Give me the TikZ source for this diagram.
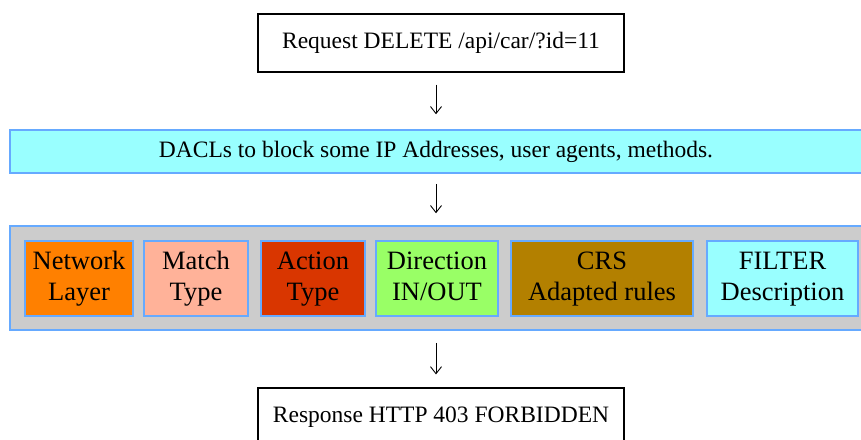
\documentclass[tikz,border=0pt]{standalone}
\usepackage{fontspec}
\setmainfont{Liberation Serif}
\usetikzlibrary{arrows.meta}
\definecolor{edgeblue}{HTML}{66AAFF}
\definecolor{barcyan}{HTML}{99FFFF}
\definecolor{panelgray}{HTML}{CCCCCC}
\definecolor{netorange}{HTML}{FF8000}
\definecolor{matchsalmon}{HTML}{FFB299}
\definecolor{actionred}{HTML}{D93600}
\definecolor{dirgreen}{HTML}{99FF66}
\definecolor{crsbrown}{HTML}{B38000}
\tikzset{
  endbox/.style={draw=black, line width=1.2pt, fill=white, minimum width=366pt, minimum height=58pt, inner sep=0pt, font=\fontsize{23.5}{28}\selectfont},
  comp/.style={draw=edgeblue, line width=1.5pt, minimum height=75pt, inner sep=0pt, align=center, font=\fontsize{26.5}{31}\selectfont},
  flow/.style={-{Straight Barb[length=7pt,width=11pt]}, line width=0.9pt}
}
\begin{document}
\begin{tikzpicture}[x=1pt,y=-1pt]
\useasboundingbox (0,0) rectangle (861,439);
\clip (0,0) rectangle (861,439);
\node[endbox] (req) at (441,43) {Request DELETE /api/car/?id=11};
\node[draw=edgeblue, line width=1.5pt, fill=barcyan, minimum width=865pt, minimum height=43pt, inner sep=0pt, font=\fontsize{23.5}{28}\selectfont] (dacl) at (442.5,151.5) {\hspace*{-13pt}DACLs to block some IP Addresses, user agents, methods.};
\node[draw=edgeblue, line width=1.5pt, fill=panelgray, minimum width=865pt, minimum height=104pt, inner sep=0pt] (panel) at (442.5,278) {};
\node[comp, fill=netorange, minimum width=108pt] (net) at (79,278.5) {\strut Network\\\strut Layer};
\node[comp, fill=matchsalmon, minimum width=104pt] (match) at (196,278.5) {\strut Match\\\strut Type};
\node[comp, fill=actionred, minimum width=104pt] (action) at (313,278.5) {\strut Action\\\strut Type};
\node[comp, fill=dirgreen, minimum width=122pt] (dir) at (437,278.5) {\strut Direction\\\strut IN/OUT};
\node[comp, fill=crsbrown, minimum width=182pt] (crs) at (602,278.5) {\strut CRS\\\strut Adapted rules};
\node[comp, fill=barcyan, minimum width=151pt] (filter) at (782.5,278.5) {\strut FILTER\\\strut Description};
\node[endbox] (resp) at (441,417) {Response HTTP 403 FORBIDDEN};
\draw[flow, shorten <=12pt, shorten >=15pt] ([xshift=-5pt]req.south) -- ([xshift=-5pt]req.south |- dacl.north);
\draw[flow, shorten <=10pt, shorten >=12pt] ([xshift=-5pt]req.south |- dacl.south) -- ([xshift=-5pt]req.south |- panel.north);
\draw[flow, shorten <=12pt, shorten >=13pt] ([xshift=-5pt]req.south |- panel.south) -- ([xshift=-5pt]resp.north);
\end{tikzpicture}
\end{document}
